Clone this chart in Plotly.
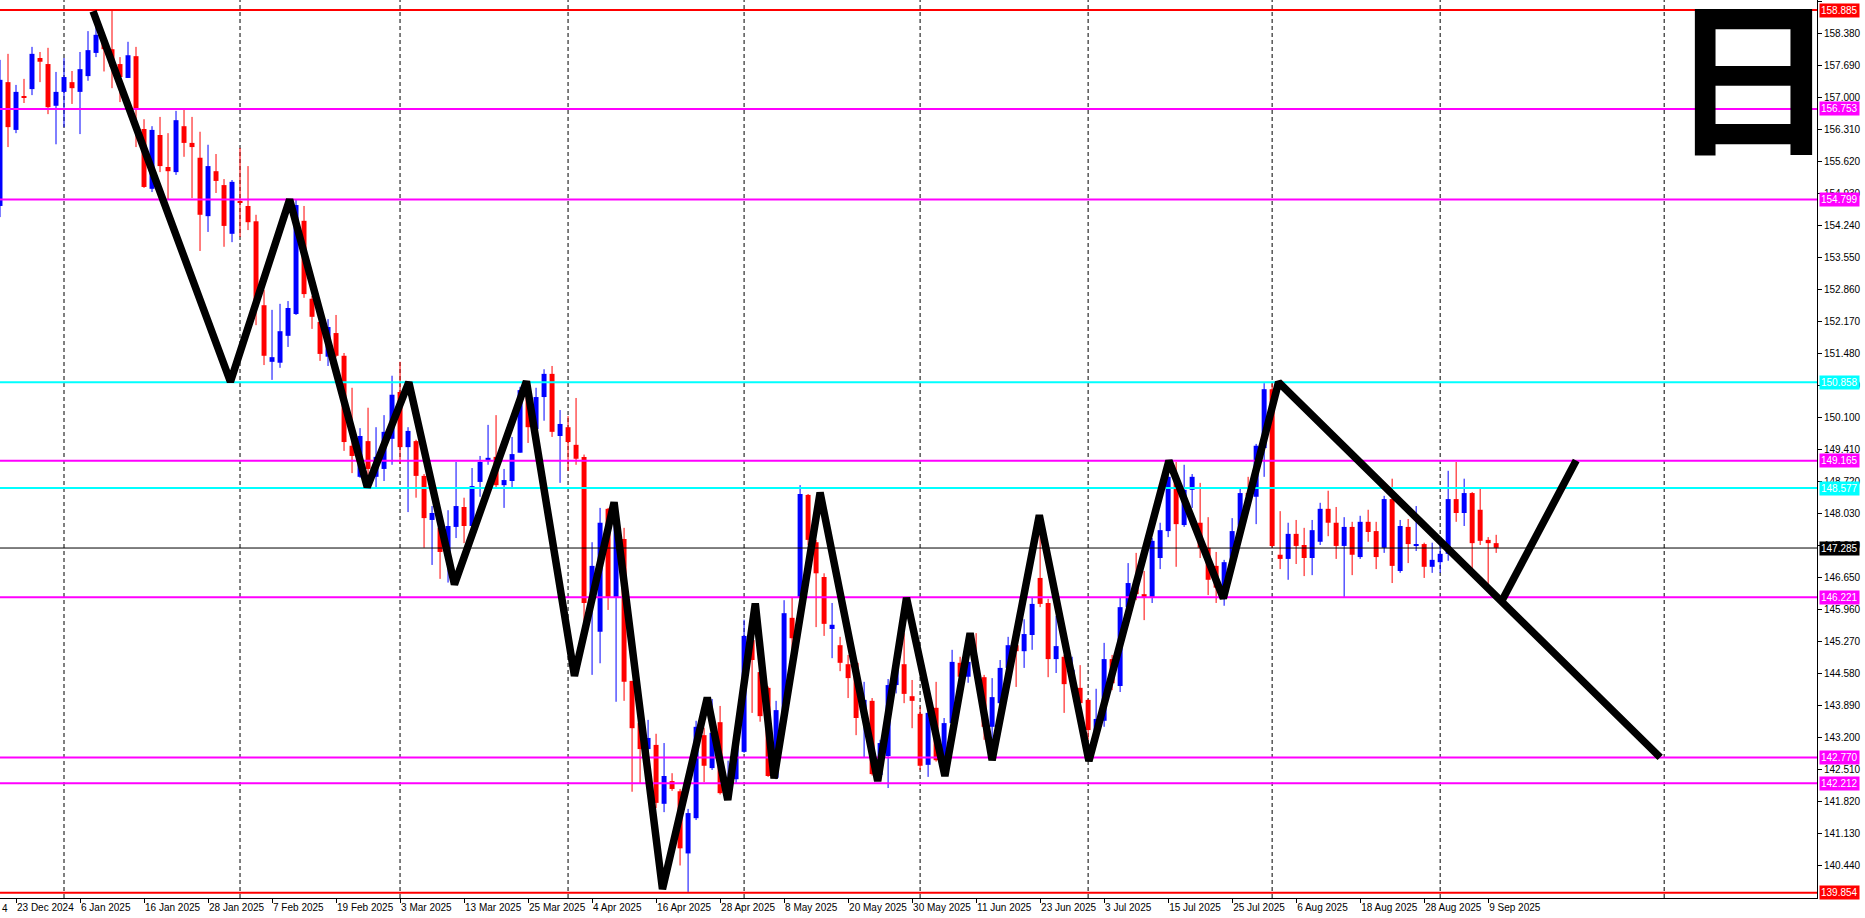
import datetime as dt
import plotly.graph_objects as go

# ---------------- calendar of daily bars ----------------
first_day = dt.date(2024, 12, 19)
last_day = dt.date(2025, 9, 10)
holidays = {dt.date(2024, 12, 25), dt.date(2025, 1, 1)}
dates = []
d = first_day
while d <= last_day:
    if d.weekday() < 5 and d not in holidays:
        dates.append(d)
    d += dt.timedelta(days=1)

# ---------------- OHLC ----------------
open_ = [154.66, 157.33, 156.30, 157.03, 157.18, 157.85, 157.72, 156.82, 157.12, 157.33,
         157.12, 157.46, 157.96, 158.20, 158.04, 157.72, 157.42, 157.89, 156.32, 155.03,
         156.19, 155.50, 155.39, 156.38, 156.02, 155.70, 154.44, 155.41, 155.11, 154.06,
         154.75, 154.66, 154.33, 152.52, 151.30, 151.28, 151.86, 152.33, 154.34, 152.66,
         152.16, 151.41, 151.92, 151.43, 149.49, 148.82, 149.59, 148.82, 148.99, 149.64,
         150.65, 149.46, 149.59, 148.84, 147.89, 147.72, 147.20, 147.74, 148.17, 147.76,
         148.71, 149.16, 149.25, 148.64, 148.73, 149.34, 150.69, 149.85, 150.54, 151.04,
         149.70, 149.89, 149.51, 149.25, 146.10, 145.48, 148.13, 146.21, 147.48, 144.42,
         143.51, 142.95, 143.04, 141.77, 142.26, 142.04, 140.70, 141.46, 143.25, 142.54,
         143.53, 142.10, 142.30, 142.89, 145.30, 144.61, 144.27, 142.33, 143.64, 145.78,
         146.21, 148.43, 147.41, 146.66, 145.54, 145.19, 144.78, 144.81, 143.62, 143.99,
         142.39, 142.80, 144.33, 144.78, 144.09, 143.71, 142.61, 143.84, 142.46, 143.51,
         144.81, 144.51, 144.83, 144.50, 143.43, 143.94, 144.70, 145.19, 145.06, 145.41,
         146.64, 146.10, 144.89, 144.94, 144.44, 144.27, 144.01, 143.30, 143.56, 144.89,
         144.31, 146.01, 146.44, 146.29, 146.23, 147.07, 147.65, 148.75, 147.78, 148.54,
         147.83, 147.29, 146.90, 146.27, 146.98, 147.65, 148.47, 148.39, 149.44, 150.71,
         147.14, 147.05, 147.59, 147.35, 147.07, 147.42, 148.13, 147.83, 147.33, 147.74,
         147.09, 147.85, 147.65, 147.29, 148.34, 146.79, 147.74, 147.35, 147.37, 146.88,
         146.98, 147.16, 148.34, 148.04, 148.47, 148.11, 147.46, 147.39]
high = [157.81, 157.94, 157.27, 157.40, 158.09, 157.98, 158.07, 157.55, 157.85, 157.57,
        157.98, 158.43, 158.61, 158.32, 158.885, 157.87, 158.20, 158.09, 156.53, 156.38,
        156.58, 156.23, 156.71, 156.75, 156.58, 156.26, 155.98, 155.78, 155.24, 155.22,
        155.91, 155.52, 154.47, 152.85, 152.42, 152.55, 152.61, 154.79, 154.66, 152.72,
        152.27, 152.22, 152.31, 151.49, 150.74, 149.87, 150.31, 149.89, 150.15, 151.00,
        151.30, 149.89, 149.62, 148.88, 148.19, 147.85, 148.10, 149.14, 148.37, 149.01,
        149.27, 149.94, 150.15, 148.99, 149.68, 150.76, 150.80, 150.74, 151.14, 151.21,
        150.26, 150.13, 150.52, 149.30, 147.41, 148.15, 148.15, 147.93, 147.72, 144.42,
        143.79, 143.58, 143.28, 143.08, 142.43, 142.09, 141.66, 143.56, 143.41, 144.03,
        143.88, 142.70, 143.10, 145.74, 145.34, 144.65, 144.30, 143.99, 146.16, 146.21,
        148.64, 148.45, 147.46, 146.74, 146.10, 145.37, 144.98, 144.85, 144.40, 144.05,
        143.15, 144.46, 144.95, 145.45, 144.44, 143.86, 143.86, 144.40, 143.62, 145.09,
        144.94, 145.00, 145.45, 144.55, 144.48, 144.87, 145.37, 145.25, 145.75, 146.23,
        147.63, 146.19, 145.82, 144.98, 144.94, 144.76, 144.03, 144.25, 145.24, 144.98,
        146.21, 146.96, 147.18, 146.79, 147.50, 147.83, 149.18, 149.14, 149.08, 148.88,
        148.69, 147.95, 147.20, 147.03, 147.93, 148.58, 148.82, 149.53, 150.84, 150.84,
        148.08, 147.83, 147.89, 147.72, 147.89, 148.26, 148.52, 148.17, 147.95, 147.85,
        147.98, 148.11, 147.85, 148.41, 148.78, 147.89, 147.91, 148.19, 147.40, 147.40,
        147.37, 148.95, 149.14, 148.78, 148.49, 148.56, 147.52, 147.57]
low = [154.42, 155.93, 156.23, 156.88, 157.05, 157.33, 156.64, 155.99, 156.36, 156.86,
       156.21, 157.36, 157.87, 157.56, 157.20, 156.90, 157.42, 155.93, 155.05, 154.96,
       155.39, 154.79, 155.33, 155.72, 154.83, 153.69, 154.10, 154.94, 153.78, 153.88,
       153.99, 154.14, 152.09, 151.23, 150.91, 151.17, 151.62, 152.31, 152.68, 152.01,
       151.32, 151.21, 151.40, 149.38, 148.90, 148.80, 148.60, 148.60, 148.73, 149.08,
       149.10, 148.06, 148.37, 147.29, 146.92, 146.62, 146.54, 147.50, 147.39, 147.74,
       148.39, 149.08, 148.60, 148.15, 148.56, 149.34, 149.55, 149.85, 150.03, 149.68,
       148.69, 148.95, 149.08, 145.20, 144.55, 144.80, 145.95, 143.97, 143.99, 142.03,
       142.22, 142.80, 141.68, 141.59, 142.05, 140.44, 139.87, 141.42, 142.24, 142.50,
       141.97, 141.97, 142.20, 142.87, 143.73, 143.54, 142.35, 142.30, 143.60, 145.09,
       146.21, 147.35, 145.58, 145.39, 144.91, 144.63, 144.05, 143.25, 142.78, 142.38,
       142.28, 142.11, 144.15, 143.94, 143.40, 142.50, 142.35, 142.68, 142.39, 143.45,
       144.22, 144.38, 144.40, 143.15, 142.87, 143.90, 144.55, 144.29, 144.70, 145.09,
       146.01, 144.50, 144.59, 143.73, 144.22, 143.88, 143.15, 143.25, 143.43, 144.22,
       144.18, 145.91, 146.16, 145.73, 146.10, 146.83, 147.52, 146.88, 147.74, 148.15,
       147.07, 146.27, 146.10, 146.04, 146.81, 147.46, 148.20, 147.80, 148.82, 147.29,
       146.83, 146.60, 146.94, 146.68, 146.70, 147.35, 147.54, 147.05, 146.23, 146.70,
       147.05, 147.42, 146.83, 147.18, 146.53, 146.75, 146.96, 147.22, 146.64, 146.75,
       146.75, 147.01, 147.85, 147.76, 146.83, 147.35, 146.51, 147.18]
close = [157.38, 156.36, 157.12, 156.99, 157.94, 157.77, 156.79, 157.12, 157.44, 157.20,
         157.61, 158.02, 158.35, 158.04, 157.66, 157.44, 157.91, 156.73, 155.07, 156.30,
         155.52, 155.41, 156.51, 156.02, 155.93, 154.47, 155.52, 155.20, 154.23, 155.18,
         154.73, 154.31, 152.50, 151.43, 151.40, 151.96, 152.46, 154.68, 152.76, 152.27,
         151.47, 152.05, 151.43, 149.57, 149.27, 149.70, 148.99, 149.25, 149.79, 150.59,
         149.46, 149.81, 148.84, 147.93, 148.04, 147.20, 147.76, 148.19, 147.76, 148.62,
         149.14, 149.23, 148.64, 148.75, 149.31, 150.69, 149.89, 150.54, 151.04, 149.79,
         149.96, 149.57, 149.21, 146.10, 146.90, 147.83, 146.23, 147.83, 144.40, 143.40,
         142.95, 143.19, 141.79, 142.37, 142.09, 140.81, 141.57, 143.43, 142.59, 143.30,
         142.00, 142.30, 143.04, 145.39, 144.87, 143.66, 142.37, 143.79, 145.88, 145.34,
         148.45, 147.46, 146.74, 145.65, 145.63, 144.81, 144.48, 143.62, 144.01, 142.41,
         143.08, 144.33, 144.80, 144.14, 143.99, 142.59, 143.73, 142.71, 143.51, 144.83,
         144.51, 144.83, 144.60, 143.43, 144.07, 144.70, 145.19, 145.06, 145.43, 146.08,
         146.08, 144.89, 145.17, 144.35, 144.66, 143.94, 143.36, 143.60, 144.89, 144.37,
         146.01, 146.53, 146.29, 146.23, 147.44, 147.67, 148.82, 147.80, 148.54, 148.82,
         147.29, 146.60, 146.43, 146.98, 147.65, 148.47, 148.41, 149.49, 150.71, 147.33,
         147.05, 147.59, 147.33, 147.07, 147.67, 148.13, 147.83, 147.33, 147.74, 147.14,
         147.85, 147.63, 147.09, 148.34, 146.90, 147.76, 147.37, 147.37, 146.88, 147.03,
         147.16, 148.34, 148.04, 148.47, 147.39, 147.44, 147.39, 147.29]

# ---------------- horizontal levels ----------------
level_prices = [158.885, 156.753, 154.799, 150.858, 149.165, 148.577, 147.285, 146.221, 142.770, 142.212, 139.854]
level_colors = ["#FF0000", "#FF00FF", "#FF00FF", "#00FFFF", "#FF00FF", "#00FFFF", "#000000",
                "#FF00FF", "#FF00FF", "#FF00FF", "#FF0000"]
level_widths = [2, 2, 2, 2, 2, 2, 1, 2, 2, 2, 2]
level_labels = ["158.885", "156.753", "154.799", "150.858", "149.165", "148.577", "147.285",
                "146.221", "142.770", "142.212", "139.854"]

# ---------------- hand-drawn zigzag (bar position, price) ----------------
zz_bar = [11.63, 28.8, 36.2, 45.9, 51.1, 56.8, 65.8, 71.8, 76.75, 82.8, 88.4, 90.96, 94.4,
          96.75, 102.5, 109.7, 113.3, 118.1, 121.25, 124.0, 129.9, 136.1, 146.1, 152.9, 159.8, 207.5]
zz_price = [158.86, 150.87, 154.80, 148.60, 150.86, 146.50, 150.88, 144.53, 148.27, 139.93,
            144.06, 141.85, 146.09, 142.32, 148.48, 142.26, 146.21, 142.37, 145.45, 142.71,
            147.99, 142.69, 149.17, 146.20, 150.86, 142.77]
up_bar = [187.75, 197.0]
up_price = [146.16, 149.17]

# ---------------- axis ticks ----------------
y_tick_labels = ["140.440", "141.130", "141.820", "142.510", "143.200", "143.890", "144.580",
                 "145.270", "145.960", "146.650", "147.340", "148.030", "148.720", "149.410",
                 "150.100", "150.790", "151.480", "152.170", "152.860", "153.550", "154.240",
                 "154.930", "155.620", "156.310", "157.000", "157.690", "158.380", "159.070"]
y_tick_vals = [float(t) for t in y_tick_labels]
x_tick_every = 8
x_tick_first = 2


def bar_pos(day):
    """position of a date on the bar axis (future dates continue in calendar days)"""
    if day in dates:
        return dates.index(day)
    return len(dates) - 1 + (day - dates[-1]).days


x_tick_vals = list(range(x_tick_first, len(dates), x_tick_every))
x_tick_text = [f"{dates[i].day} {dates[i]:%b %Y}" for i in x_tick_vals]

# month separators
sep_pos = [i for i in range(1, len(dates)) if dates[i].month != dates[i - 1].month]
sep_pos.append(bar_pos(dt.date(2025, 10, 1)))

idx = list(range(len(dates)))
up_i = [i for i in idx if close[i] >= open_[i]]
dn_i = [i for i in idx if close[i] < open_[i]]

BLUE = "#0000FF"
RED = "#FF0000"

fig = go.Figure()


def wicks(ids):
    xs, ys = [], []
    for i in ids:
        xs += [i, i, None]
        ys += [low[i], high[i], None]
    return xs, ys


for ids, col in ((up_i, BLUE), (dn_i, RED)):
    wx, wy = wicks(ids)
    fig.add_trace(go.Scatter(x=wx, y=wy, mode="lines", line=dict(color=col, width=1),
                             hoverinfo="skip", showlegend=False))
    fig.add_trace(go.Bar(x=ids, y=[abs(close[i] - open_[i]) for i in ids],
                         base=[min(open_[i], close[i]) for i in ids], width=0.62,
                         marker=dict(color=col, line=dict(width=0)),
                         hoverinfo="skip", showlegend=False))

XMIN, XMAX = 0.0, 227.1
for p, c, w in zip(level_prices, level_colors, level_widths):
    fig.add_trace(go.Scatter(x=[XMIN - 5, XMAX + 5], y=[p, p], mode="lines",
                             line=dict(color=c, width=w), hoverinfo="skip", showlegend=False))

fig.add_trace(go.Scatter(x=zz_bar, y=zz_price, mode="lines",
                         line=dict(color="black", width=7.5), hoverinfo="skip", showlegend=False))
fig.add_trace(go.Scatter(x=up_bar, y=up_price, mode="lines",
                         line=dict(color="black", width=7.5), hoverinfo="skip", showlegend=False))

for s in sep_pos:
    fig.add_shape(type="line", x0=s, x1=s, xref="x", y0=0, y1=1, yref="paper",
                  line=dict(color="black", width=1, dash="4px,3px"), layer="below")

annotations = []
for p, c, t in zip(level_prices, level_colors, level_labels):
    annotations.append(dict(x=1, xref="paper", xanchor="left", xshift=2, y=p, yref="y",
                            yanchor="middle", text=t, showarrow=False, bgcolor=c,
                            borderpad=1, font=dict(family="Liberation Sans", size=10, color="white")))
annotations.append(dict(x=0, xref="paper", xanchor="left", y=0, yref="paper", yanchor="top",
                        yshift=-3, text="4", showarrow=False,
                        font=dict(family="Liberation Sans", size=10, color="black")))
annotations.append(dict(x=0.9648, xref="paper", xanchor="center", y=0.924, yref="paper",
                        yanchor="middle", text="日", showarrow=False,
                        font=dict(family="Noto Sans CJK JP", size=168, color="black", weight=700)))

fig.update_layout(
    width=1865, height=918,
    margin=dict(l=0, r=48, t=0, b=20, autoexpand=False),
    paper_bgcolor="white", plot_bgcolor="white",
    barmode="overlay", showlegend=False,
    annotations=annotations,
    xaxis=dict(range=[XMIN, XMAX], tickvals=x_tick_vals, ticktext=x_tick_text, tickangle=0,
               ticks="outside", ticklen=4, tickcolor="black", showgrid=False, zeroline=False,
               showline=True, linecolor="black", linewidth=1, ticklabelposition="outside right",
               automargin=False,
               tickfont=dict(family="Liberation Sans", size=10, color="black")),
    yaxis=dict(range=[139.739, 159.101], side="right", tickvals=y_tick_vals, ticktext=y_tick_labels,
               ticks="outside", ticklen=4, tickcolor="black", showgrid=False, zeroline=False,
               showline=True, linecolor="black", linewidth=1, automargin=False,
               tickfont=dict(family="Liberation Sans", size=10, color="black")),
)

fig.write_html("out.html", config={"displayModeBar": False},
               post_script="document.body.style.margin='0px';document.body.style.overflow='hidden';")
